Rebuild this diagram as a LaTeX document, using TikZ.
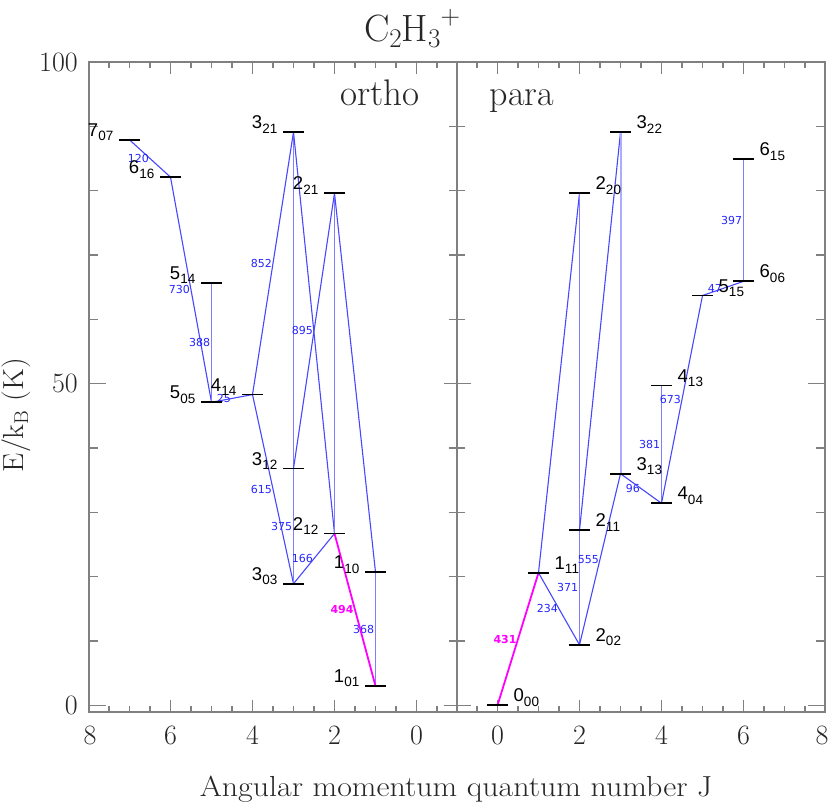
\documentclass[tikz,border=0pt]{standalone}
\usepackage{fontspec}
\newfontfamily\lvfont{Liberation Sans}
\newfontfamily\trfont{DejaVu Sans}
\definecolor{tblue}{rgb}{0.28,0.28,1}
\definecolor{lblue}{rgb}{0.15,0.15,1}
\definecolor{tmag}{rgb}{1,0,1}
\definecolor{axgray}{gray}{0.5}
\newcommand\lvtext[2]{{\fontsize{18.5}{18.5}\selectfont #1}\raisebox{-4.5pt}{\fontsize{13.5}{13.5}\selectfont #2}}
\newcommand\barL[3]{\draw[lvbar] ([xshift=-10.5pt]#1) -- ([xshift=10.5pt]#1);
  \node[lvl, anchor=base east] (#1t) at ([xshift=-16pt,yshift=3.5pt]#1) {\lvtext{#2}{#3}};}
\newcommand\barR[3]{\draw[lvbar] ([xshift=-10.5pt]#1) -- ([xshift=10.5pt]#1);
  \node[lvl, anchor=base west] (#1t) at ([xshift=16pt,yshift=3.5pt]#1) {\lvtext{#2}{#3}};}
\begin{document}
\begin{tikzpicture}[x=1pt,y=1pt,
  lvbar/.style={line width=1.8pt, black},
  lvl/.style={font=\lvfont, inner sep=0pt, text=black},
  tr/.style={tblue, line width=1.1pt},
  trv/.style={tblue!70, line width=1.6pt},
  trlight/.style={tblue!45, line width=2pt},
  trm/.style={tmag, line width=1.8pt},
  lab/.style={font=\trfont\fontsize{11}{11}\selectfont, text=lblue, anchor=east, inner sep=0.6pt},
  labm/.style={font=\trfont\bfseries\fontsize{11}{11}\selectfont, text=tmag, anchor=east, inner sep=0.6pt},
  frame/.style={axgray, line width=2pt},
  tick/.style={axgray, line width=1.4pt},
  axnum/.style={font=\fontsize{28}{28}\selectfont, inner sep=0pt, text=black!85},
  axtxt/.style={font=\fontsize{29}{29}\selectfont, inner sep=0pt, text=black!85}
]
\useasboundingbox (0,0) rectangle (830,802);

% ---------------- frame and ticks ----------------
\draw[frame] (89,90) rectangle (825,740);
\draw[frame] (457,90) -- (457,740);

% y ticks
\foreach \e in {10,20,30,40,60,70,80,90} {
  \draw[tick] (89,{96.7+6.433*\e}) -- ++(9,0);
  \draw[tick] (825,{96.7+6.433*\e}) -- ++(-9,0);
  \draw[tick] (449,{96.7+6.433*\e}) -- ++(16,0);
}
\foreach \e in {0,50,100} {
  \draw[tick] (89,{96.7+6.433*\e}) -- ++(17,0);
  \draw[tick] (825,{96.7+6.433*\e}) -- ++(-17,0);
  \draw[tick] (443.5,{96.7+6.433*\e}) -- ++(27,0);
}
% x ticks
\foreach \j in {-0.5,0,...,7.5} {
  \draw[tick] ({416.5-41*\j},90) -- ++(0,6);
  \draw[tick] ({416.5-41*\j},740) -- ++(0,-6);
  \draw[tick] ({497.5+41*\j},90) -- ++(0,6);
  \draw[tick] ({497.5+41*\j},740) -- ++(0,-6);
}
\foreach \j in {0,2,4,6} {
  \draw[tick] ({416.5-41*\j},90) -- ++(0,12);
  \draw[tick] ({416.5-41*\j},740) -- ++(0,-12);
  \draw[tick] ({497.5+41*\j},90) -- ++(0,12);
  \draw[tick] ({497.5+41*\j},740) -- ++(0,-12);
}

% tick labels
\node[axnum, anchor=east] (y100) at (78,740) {100};
\node[axnum, anchor=east] (y50) at (78,{96.7+6.433*50}) {50};
\node[axnum, anchor=east] (y0) at (78,96.7) {0};
\foreach \j in {0,2,4,6} {
  \node[axnum, anchor=base] (xl\j) at ({416.5-41*\j},57) {\j};
  \node[axnum, anchor=base] (xr\j) at ({497.5+41*\j},57) {\j};
}
\node[axnum, anchor=base] (xl8) at (90,57) {8};
\node[axnum, anchor=base] (xr8) at (822,57) {8};

% titles and axis labels
\node[anchor=base, inner sep=0pt, text=black!85] (title) at (412,760)
  {\fontsize{38}{38}\selectfont C\raisebox{-6pt}{\fontsize{27}{27}\selectfont 2}H\raisebox{-6pt}{\fontsize{27}{27}\selectfont 3}\raisebox{17pt}{\fontsize{27}{27}\selectfont +}};
\node[axtxt, anchor=base] (xlabel) at (456,5) {\scalebox{1.1}[1]{Angular momentum quantum number J}};
\node[axtxt, rotate=90] (ylabel) at (16,387) {\scalebox{1.05}[1]{E/k\raisebox{-5pt}{\fontsize{20}{20}\selectfont B} (K)}};
\node[anchor=base, inner sep=0pt, text=black!85] (ortho) at (380,696) {\fontsize{37}{37}\selectfont ortho};
\node[anchor=base, inner sep=0pt, text=black!85] (para) at (522,696) {\fontsize{36}{36}\selectfont para};

% ---------------- level positions ----------------
\begin{scope}[shift={(416.5,96.7)}, x=-41pt, y=6.433pt]
  \coordinate (o707) at (7,87.9);
  \coordinate (o616) at (6,82.1);
  \coordinate (o514) at (5,65.7);
  \coordinate (o505) at (5,47.1);
  \coordinate (o414) at (4,48.3);
  \coordinate (o321) at (3,89.1);
  \coordinate (o312) at (3,36.8);
  \coordinate (o303) at (3,18.9);
  \coordinate (o221) at (2,79.6);
  \coordinate (o212) at (2,26.7);
  \coordinate (o110) at (1,20.7);
  \coordinate (o101) at (1,3.0);
\end{scope}
\begin{scope}[shift={(497.5,96.7)}, x=41pt, y=6.433pt]
  \coordinate (p000) at (0,0);
  \coordinate (p111) at (1,20.6);
  \coordinate (p202) at (2,9.4);
  \coordinate (p211) at (2,27.2);
  \coordinate (p220) at (2,79.6);
  \coordinate (p313) at (3,36.0);
  \coordinate (p322) at (3,89.1);
  \coordinate (p404) at (4,31.4);
  \coordinate (p413) at (4,49.7);
  \coordinate (p515) at (5,63.7);
  \coordinate (p606) at (6,65.9);
  \coordinate (p615) at (6,84.9);
\end{scope}

% ---------------- transitions: ortho ----------------
\draw[tr] (o707) -- node[lab] (l120) {120} (o616);
\draw[tr] (o616) -- node[lab] (l730) {730} (o505);
\draw[trv] (o514) -- node[lab] (l388) {388} (o505);
\draw[tr] (o505) -- node[lab] (l25) {25} (o414);
\draw[tr] (o414) -- node[lab] (l852) {852} (o321);
\draw[tr] (o414) -- node[lab] (l615) {615} (o303);
\draw[trv] (o321) -- (o312);
\draw[trv] (o312) -- node[lab] (l375) {375} (o303);
\draw[tr] (o312) -- node[lab] (l895) {895} (o221);
\draw[tr] (o321) -- (o212);
\draw[trv] (o221) -- (o212);
\draw[tr] (o221) -- (o110);
\draw[tr] (o212) -- node[lab] (l166) {166} (o303);
\draw[trv] (o110) -- node[lab] (l368) {368} (o101);
\draw[trm] (o212) -- node[labm] (l494) {494} (o101);

% ---------------- transitions: para ----------------
\draw[trm] (p000) -- node[labm] (l431) {431} (p111);
\draw[tr] (p111) -- node[lab] (l234) {234} (p202);
\draw[tr] (p111) -- (p220);
\draw[trv] (p220) -- (p211);
\draw[trv] (p211) -- node[lab] (l371) {371} (p202);
\draw[tr] (p202) -- node[lab] (l555) {555} (p313);
\draw[tr] (p211) -- (p322);
\draw[trlight] (p322) -- (p313);
\draw[tr] (p313) -- node[lab] (l96) {96} (p404);
\draw[trv] (p413) -- node[lab] (l381) {381} (p404);
\draw[tr] (p404) -- node[lab] (l673) {673} (p515);
\draw[tr] (p515) -- node[lab] (l47) {47} (p606);
\draw[trv] (p615) -- node[lab] (l397) {397} (p606);

% ---------------- level bars and labels ----------------
\barL{o707}{7}{07}
\barL{o616}{6}{16}
\barL{o514}{5}{14}
\barL{o505}{5}{05}
\barL{o414}{4}{14}
\barL{o321}{3}{21}
\barL{o312}{3}{12}
\barL{o303}{3}{03}
\barL{o221}{2}{21}
\barL{o212}{2}{12}
\barL{o110}{1}{10}
\barL{o101}{1}{01}

\barR{p000}{0}{00}
\barR{p111}{1}{11}
\barR{p202}{2}{02}
\barR{p211}{2}{11}
\barR{p220}{2}{20}
\barR{p313}{3}{13}
\barR{p322}{3}{22}
\barR{p404}{4}{04}
\barR{p413}{4}{13}
\barR{p515}{5}{15}
\barR{p606}{6}{06}
\barR{p615}{6}{15}
\end{tikzpicture}
\end{document}
